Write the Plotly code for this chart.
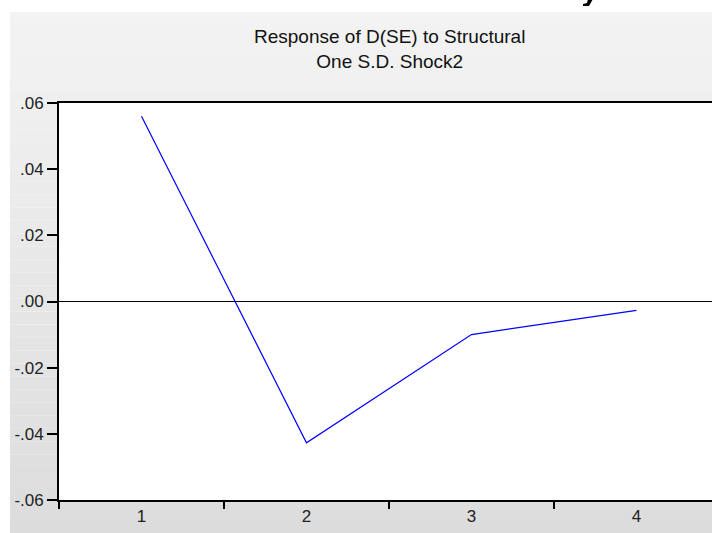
import plotly.graph_objects as go

periods = ["1", "2", "3", "4"]
response = [0.056, -0.0427, -0.0100, -0.0027]
ytick_vals = [0.06, 0.04, 0.02, 0.0, -0.02, -0.04, -0.06]
ytick_text = [".06", ".04", ".02", ".00", "-.02", "-.04", "-.06"]
title_lines = ["Response of D(SE) to Structural", "One S.D. Shock2"]

W, H = 712, 533
L, R, T, B = 59, 0, 103, 33
pw, ph = W - L - R, H - T - B

def px_to_paper_x(px):
    return (px - L) / pw

def px_to_paper_y(py):
    return (H - B - py) / ph

shapes = []
# gradient panel background (from y=12 to bottom, x=10 to right)
n = 40
top_px, bot_px = 12, H
for i in range(n):
    y0 = top_px + (bot_px - top_px) * i / n
    y1 = top_px + (bot_px - top_px) * (i + 1) / n
    t = i / (n - 1)
    c = int(round(243 - (243 - 220) * t))
    shapes.append(dict(type="rect", xref="paper", yref="paper", layer="below",
                       x0=px_to_paper_x(10), x1=px_to_paper_x(W + 5),
                       y0=px_to_paper_y(y1), y1=px_to_paper_y(y0),
                       fillcolor=f"rgb({c},{c},{c})", line=dict(width=0)))
# white plot area
shapes.append(dict(type="rect", xref="paper", yref="paper", layer="below",
                   x0=0, x1=1, y0=0, y1=1, fillcolor="white", line=dict(width=0)))

# small cropped descender fragment visible at the very top of the screenshot
frag = [(593, -1), (588, -1), (587, 3), (583, 4), (583, 6), (589, 6), (593, -1)]
path = "M " + " L ".join(f"{px_to_paper_x(x):.5f},{px_to_paper_y(y):.5f}" for x, y in frag) + " Z"
shapes.append(dict(type="path", xref="paper", yref="paper", path=path,
                   fillcolor="black", line=dict(width=0)))

fig = go.Figure()
fig.add_trace(go.Scatter(x=periods, y=response, mode="lines",
                         line=dict(color="#0000ff", width=1.2), showlegend=False))

fig.update_layout(
    width=W, height=H,
    margin=dict(l=L, r=R, t=T, b=B, pad=0),
    paper_bgcolor="white",
    plot_bgcolor="rgba(0,0,0,0)",
    shapes=shapes,
    font=dict(family="Liberation Sans, Arial, sans-serif", color="#111111"),
    annotations=[
        dict(text="<br>".join(title_lines), xref="paper", yref="paper",
             x=px_to_paper_x(389), y=px_to_paper_y(24), yanchor="top",
             xanchor="center", showarrow=False,
             font=dict(size=19, color="#111111")),
    ],
)

fig.update_xaxes(
    type="category", range=[-0.5, 3.458], tickson="boundaries",
    ticks="outside", ticklen=7, tickwidth=1.5, tickcolor="black",
    showline=True, linecolor="black", linewidth=1.8, mirror=True,
    showgrid=False, zeroline=False,
    tickfont=dict(size=17, color="#222222"),
)
fig.update_yaxes(
    range=[-0.06, 0.06], tickvals=ytick_vals, ticktext=ytick_text,
    ticks="outside", ticklen=10, tickwidth=1.5, tickcolor="black",
    showline=True, linecolor="black", linewidth=1.8,
    showgrid=False, zeroline=True, zerolinecolor="black", zerolinewidth=1.2,
    tickfont=dict(size=17, color="#222222"),
)

fig.write_html("out.html", config={"displayModeBar": False},
               post_script="document.body.style.margin='0';document.body.style.overflow='hidden';")
